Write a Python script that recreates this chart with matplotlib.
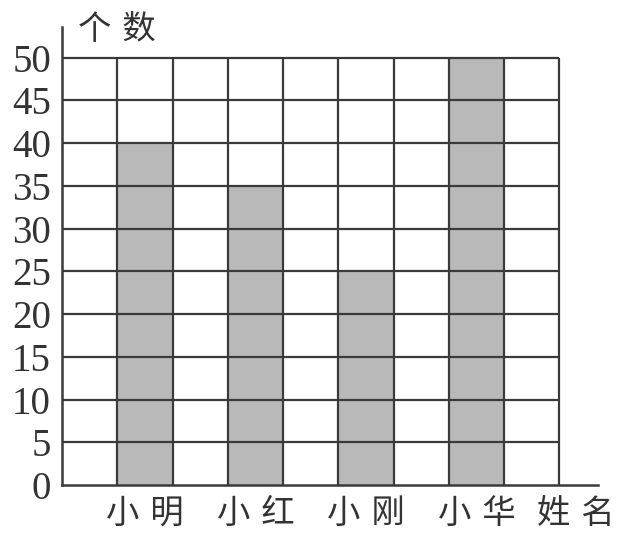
import matplotlib
matplotlib.use("Agg")
import matplotlib.pyplot as plt
import numpy as np

names = ["小明", "小红", "小刚", "小华"]
counts = [40, 35, 25, 50]
y_ticks = [0, 5, 10, 15, 20, 25, 30, 35, 40, 45, 50]
y_label = "个数"
x_label = "姓名"

cjk = ["Noto Sans CJK SC", "DejaVu Sans"]
serif = ["Liberation Serif", "DejaVu Serif"]

fig = plt.figure(figsize=(6.18, 5.40), dpi=100)
ax = fig.add_axes([62/618, 1-485/540, (598-62)/618, (485-27)/540])

ncols = 9
ymax = 50
x_pos = [1.5, 3.5, 5.5, 7.5]
line_c = "#3a3a3a"
gap = "\u2004"

ax.bar(x_pos, counts, width=1.0, color="#b9b9b9", edgecolor="none", zorder=1)
ax.vlines(np.arange(1, ncols + 1), 0, ymax, colors=line_c, linewidth=1.6, zorder=3)
ax.hlines(y_ticks[1:], 0, ncols, colors=line_c, linewidth=1.6, zorder=3)

ax.set_xlim(0, 9.7)
ax.set_ylim(0, 53.6)
for s in ["top", "right"]:
    ax.spines[s].set_visible(False)
for s in ["left", "bottom"]:
    ax.spines[s].set_linewidth(1.8)
    ax.spines[s].set_color(line_c)
    ax.spines[s].set_zorder(4)

ax.set_yticks(y_ticks)
ax.set_yticklabels([str(v) for v in y_ticks], fontfamily=serif, fontsize=28, color="#333333")
ax.tick_params(axis="y", length=0, pad=8)
ax.set_xticks(x_pos + [9.3])
ax.set_xticklabels([gap.join(n) for n in names] + [gap.join(x_label)],
                   fontfamily=cjk, fontsize=24, color="#333333")
ax.tick_params(axis="x", length=0, pad=8)

fig.text(117/618, 1-30/540, gap.join(y_label), fontfamily=cjk, fontsize=24, color="#333333",
         ha="center", va="center")

fig.savefig("out.png", dpi=100, facecolor="white")
